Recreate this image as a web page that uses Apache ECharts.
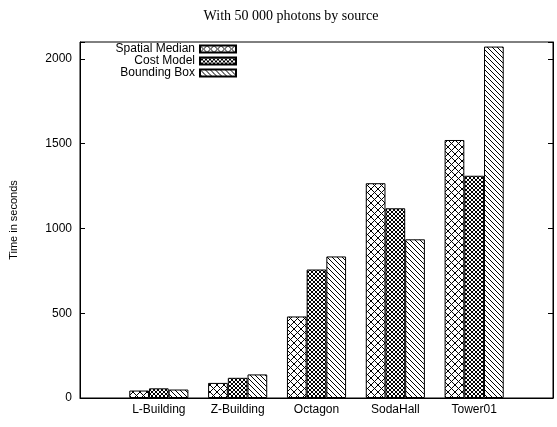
<!DOCTYPE html>
<html>
<head>
<meta charset="utf-8">
<script src="https://cdn.jsdelivr.net/npm/echarts@6/dist/echarts.min.js"></script>
<style>
  html, body { margin: 0; padding: 0; background: #fff; }
  #chart { width: 557px; height: 427px; }
</style>
</head>
<body>
<div id="chart"></div>
<script>
// Scenes rendered, with blank slots at each end of the category axis
const categories = ['', 'L-Building', 'Z-Building', 'Octagon', 'SodaHall', 'Tower01', ''];

// Rendering time (seconds) per acceleration structure
const spatialMedian = ['-', 44, 89, 481, 1267, 1522, '-'];
const costModel     = ['-', 57, 119, 758, 1119, 1311, '-'];
const boundingBox   = ['-', 50, 139, 835, 936, 2073, '-'];

const seriesNames = ['Spatial Median', 'Cost Model', 'Bounding Box'];
const yTicks = [0, 500, 1000, 1500, 2000];

// Hatch fills drawn on small tiles that repeat across each bar
function hatchTile(size, drawLines) {
  const c = document.createElement('canvas');
  c.width = size; c.height = size;
  const g = c.getContext('2d');
  g.fillStyle = '#fff';
  g.fillRect(0, 0, size, size);
  g.strokeStyle = '#000';
  g.lineWidth = 1;
  drawLines(g, size);
  return { image: c, repeat: 'repeat' };
}
function diagDown(g, s) {   // "\" lines
  g.beginPath();
  g.moveTo(-1, -1); g.lineTo(s + 1, s + 1);
  g.moveTo(-1, s - 1); g.lineTo(1, s + 1);
  g.moveTo(s - 1, -1); g.lineTo(s + 1, 1);
  g.stroke();
}
function diagUp(g, s) {     // "/" lines
  g.beginPath();
  g.moveTo(-1, s + 1); g.lineTo(s + 1, -1);
  g.moveTo(-1, 1); g.lineTo(1, -1);
  g.moveTo(s - 1, s + 1); g.lineTo(s + 1, s - 1);
  g.stroke();
}
const fills = [
  hatchTile(7, (g, s) => { diagDown(g, s); diagUp(g, s); }),
  hatchTile(4, (g, s) => { diagDown(g, s); diagUp(g, s); }),
  hatchTile(5, diagDown)
];

const font = 'Liberation Sans, Arial, sans-serif';
const chart = echarts.init(document.getElementById('chart'), null, { renderer: 'canvas' });

const values = [spatialMedian, costModel, boundingBox];
chart.setOption({
  animation: false,
  backgroundColor: '#fff',
  title: {
    text: 'With 50 000 photons by source',
    left: 286,
    top: 4,
    textAlign: 'center',
    textStyle: { fontFamily: 'Liberation Serif, Times New Roman, serif', fontSize: 14, fontWeight: 'normal', color: '#000' }
  },
  grid: {
    left: 80, right: 4, top: 42, bottom: 29,
    show: true, borderColor: '#000', borderWidth: 1, backgroundColor: 'transparent'
  },
  legend: {
    data: seriesNames,
    orient: 'vertical',
    align: 'right',
    icon: 'rect',
    right: 320,
    top: 43,
    padding: 0,
    itemGap: 0,
    itemWidth: 36,
    itemHeight: 7,
    textStyle: { fontFamily: font, fontSize: 12, lineHeight: 12, color: '#000' }
  },
  xAxis: {
    type: 'category',
    data: categories,
    boundaryGap: false,
    axisLine: { lineStyle: { color: '#000', width: 1 } },
    axisTick: { show: false },
    axisLabel: { interval: 0, margin: 6, fontFamily: font, fontSize: 12, color: '#000' },
    splitLine: { show: false }
  },
  yAxis: [
    {
      type: 'value',
      min: 0, max: 2100, interval: 500,
      name: 'Time in seconds',
      nameLocation: 'middle',
      nameRotate: 90,
      nameGap: 61,
      nameTextStyle: { fontFamily: font, fontSize: 11, color: '#000' },
      axisLine: { show: true, lineStyle: { color: '#000', width: 1 } },
      axisTick: { show: true, inside: true, length: 5, lineStyle: { color: '#000' } },
      axisLabel: {
        margin: 8, fontFamily: font, fontSize: 12, color: '#000',
        formatter: v => (yTicks.indexOf(v) >= 0 ? String(v) : '')
      },
      splitLine: { show: false }
    },
    {
      type: 'value',
      position: 'right',
      min: 0, max: 2100, interval: 500,
      axisLine: { show: true, lineStyle: { color: '#000', width: 1 } },
      axisTick: { show: true, inside: true, length: 5, lineStyle: { color: '#000' } },
      axisLabel: { show: false },
      splitLine: { show: false }
    }
  ],
  series: seriesNames.map((name, i) => ({
    name: name,
    type: 'bar',
    yAxisIndex: 0,
    data: values[i],
    barWidth: '25%',
    barGap: '0%',
    itemStyle: { color: fills[i], borderColor: '#000', borderWidth: 1 }
  }))
});
</script>
</body>
</html>
